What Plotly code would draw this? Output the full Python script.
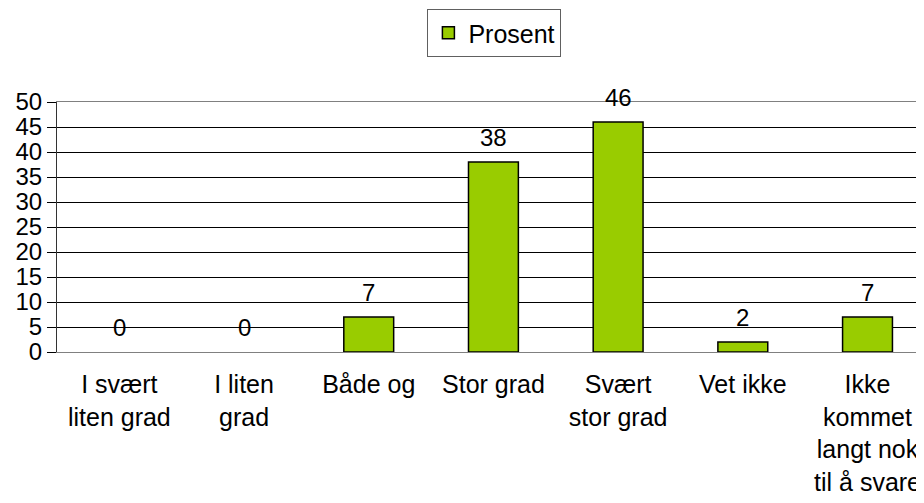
import plotly.graph_objects as go

categories = ["I svært<br>liten grad", "I liten<br>grad", "Både og", "Stor grad",
              "Svært<br>stor grad", "Vet ikke", "Ikke<br>kommet<br>langt nok<br>til å svare"]
prosent = [0, 0, 7, 38, 46, 2, 7]
y_ticks = list(range(0, 51, 5))

FONT = "Liberation Sans, Arial, sans-serif"
GREEN = "#99CC00"

# no outline on empty bars
outline = [1.5 if v > 0 else 0 for v in prosent]

fig = go.Figure()
fig.add_trace(go.Bar(
    x=categories, y=prosent, name="Prosent", showlegend=False,
    width=0.40,
    marker=dict(color=GREEN, line=dict(color="black", width=outline)),
))
# legend entry only, so the legend swatch keeps its black border
fig.add_trace(go.Bar(
    x=[None], y=[None], name="Prosent", showlegend=True,
    marker=dict(color=GREEN, line=dict(color="black", width=1.5)),
))

# value labels above bars
for cat, val in zip(categories, prosent):
    fig.add_annotation(x=cat, y=val, xref="x", yref="y", text=str(val),
                       showarrow=False, yshift=25,
                       font=dict(family=FONT, size=24, color="black"))

# page body has an 8px margin: figure is shrunk so the page doesn't scroll,
# and the right end of the plot is cut like in the original
fig.update_layout(
    width=916, height=487,
    margin=dict(l=49, r=0, t=94, b=143),
    paper_bgcolor="white", plot_bgcolor="white",
    font=dict(family=FONT, size=24, color="black"),
    barmode="overlay",
    legend=dict(x=0.5045, xanchor="center", y=1.372, yanchor="top",
                bordercolor="#606060", borderwidth=1,
                font=dict(family=FONT, size=25)),
    xaxis=dict(range=[-0.5, 6.453], showgrid=False,
               showline=True, linecolor="#808080", linewidth=1, mirror=True,
               ticks="", tickfont=dict(family=FONT, size=25), tickangle=0,
               ticklabelstandoff=10),
    yaxis=dict(range=[0, 50], tickvals=y_ticks, showgrid=True, gridcolor="black", gridwidth=1,
               showline=True, linecolor="#333333", linewidth=1,
               ticks="outside", ticklen=9, tickcolor="black",
               tickfont=dict(family=FONT, size=24), zeroline=False),
)

fig.write_html("out.html")
